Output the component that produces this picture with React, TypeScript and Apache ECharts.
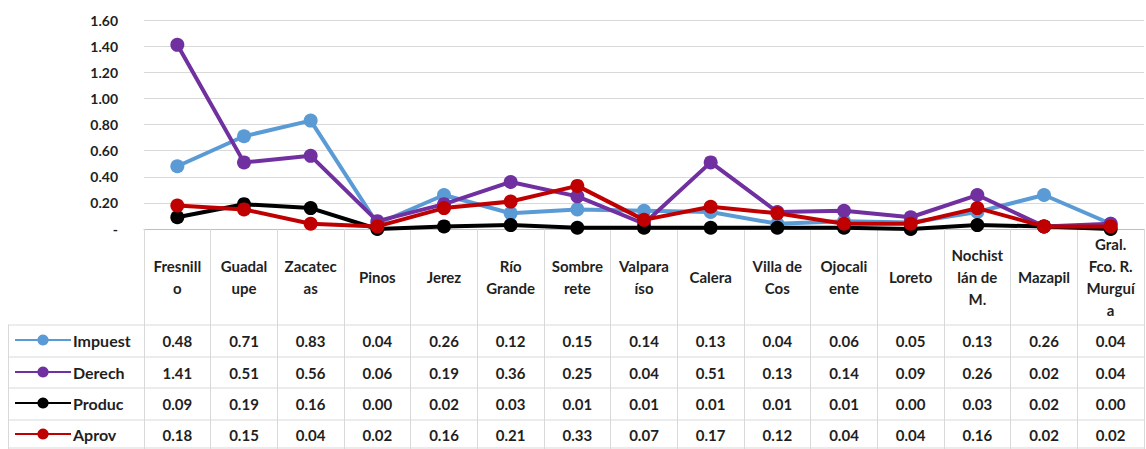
import React, { useEffect, useRef } from "react";
import * as echarts from "echarts";

const categories = [
  "Fresnill\no", "Guadal\nupe", "Zacatec\nas", "Pinos", "Jerez", "Río\nGrande",
  "Sombre\nrete", "Valpara\níso", "Calera", "Villa de\nCos", "Ojocali\nente",
  "Loreto", "Nochist\nlán de\nM.", "Mazapil", "Gral.\nFco. R.\nMurguí\na",
];
const seriesNames = ["Impuest", "Derech", "Produc", "Aprov"];
const impuest = [0.48, 0.71, 0.83, 0.04, 0.26, 0.12, 0.15, 0.14, 0.13, 0.04, 0.06, 0.05, 0.13, 0.26, 0.04];
const derech = [1.41, 0.51, 0.56, 0.06, 0.19, 0.36, 0.25, 0.04, 0.51, 0.13, 0.14, 0.09, 0.26, 0.02, 0.04];
const produc = [0.09, 0.19, 0.16, 0.0, 0.02, 0.03, 0.01, 0.01, 0.01, 0.01, 0.01, 0.0, 0.03, 0.02, 0.0];
const aprov = [0.18, 0.15, 0.04, 0.02, 0.16, 0.21, 0.33, 0.07, 0.17, 0.12, 0.04, 0.04, 0.16, 0.02, 0.02];
const colors = ["#5B9BD5", "#7030A0", "#000000", "#C00000"];
const yTicks = { min: 0, max: 1.6, interval: 0.2 };

export default function App() {
  const ref = useRef<HTMLDivElement>(null);
  useEffect(() => {
    if (!ref.current) return;
    const chart = echarts.init(ref.current, null, { renderer: "svg" });
    const font = "Lato, 'Open Sans', sans-serif";
    const textColor = "#1f1f1f";
    const gridLeft = 144, gridRight = 2, gridTop = 20, gridBottom = 229;
    const rowLines = [325, 357, 388, 420, 448];
    const rowCenters = [341, 373, 404, 435];
    const allData = [impuest, derech, produc, aprov];
    const lineColor = "#d9d9d9";

    const valueAxes = allData.map((arr, i) => ({
      type: "category",
      data: categories,
      gridIndex: 0,
      position: "bottom",
      axisLine: { show: false },
      axisTick: { show: false },
      splitLine: { show: false },
      axisLabel: {
        interval: 0,
        margin: rowCenters[i] - gridBottom,
        verticalAlign: "middle",
        fontFamily: font,
        fontWeight: "bold",
        fontSize: 15,
        color: textColor,
        formatter: (_v: string, idx: number) => arr[idx].toFixed(2),
      },
    }));

    const legends = seriesNames.map((name, i) => ({
      data: [name],
      orient: "horizontal",
      left: 14,
      top: rowCenters[i] - 9,
      padding: 0,
      itemWidth: 56,
      itemHeight: 14,
      textStyle: {
        fontFamily: font,
        fontWeight: "bold",
        fontSize: 16,
        color: textColor,
        padding: [0, 0, 0, -3],
      },
      selectedMode: false,
    }));

    const graphics: any[] = rowLines.map((y) => ({
      type: "line",
      shape: { x1: 8, y1: y, x2: 1144, y2: y },
      style: { stroke: lineColor, lineWidth: 1 },
      silent: true,
    }));
    graphics.push({
      type: "line",
      shape: { x1: 8.5, y1: rowLines[0], x2: 8.5, y2: 449 },
      style: { stroke: lineColor, lineWidth: 1 },
      silent: true,
    });

    chart.setOption({
      animation: false,
      color: colors,
      grid: { left: gridLeft, right: gridRight, top: gridTop, bottom: 449 - gridBottom, containLabel: false },
      legend: legends,
      xAxis: [
        {
          type: "category",
          data: categories,
          boundaryGap: true,
          axisLine: { show: true, lineStyle: { color: "#bfbfbf", width: 1 } },
          axisTick: { show: true, interval: 0, length: 220, lineStyle: { color: lineColor } },
          axisLabel: {
            interval: 0,
            margin: 48,
            verticalAlign: "middle",
            lineHeight: 22,
            fontFamily: font,
            fontWeight: "bold",
            fontSize: 15,
            color: textColor,
          },
        },
        ...valueAxes,
      ],
      yAxis: {
        type: "value",
        min: yTicks.min,
        max: yTicks.max,
        interval: yTicks.interval,
        axisLine: { show: false },
        axisTick: { show: false },
        splitLine: { lineStyle: { color: lineColor, width: 1 } },
        axisLabel: {
          margin: 26,
          fontFamily: font,
          fontWeight: "bold",
          fontSize: 14,
          color: textColor,
          formatter: (v: number) => (v === 0 ? "-" : v.toFixed(2)),
        },
      },
      series: allData.map((arr, i) => ({
        name: seriesNames[i],
        type: "line",
        xAxisIndex: 0,
        data: arr,
        symbol: "circle",
        symbolSize: 14,
        lineStyle: { width: 4, color: colors[i] },
        itemStyle: { color: colors[i] },
        z: 2 + i,
      })),
      graphic: graphics,
    });
    return () => chart.dispose();
  }, []);
  return (
    <div
      ref={ref}
      style={{ position: "fixed", left: 0, top: 0, width: 1146, height: 449, background: "#fff" }}
    />
  );
}
